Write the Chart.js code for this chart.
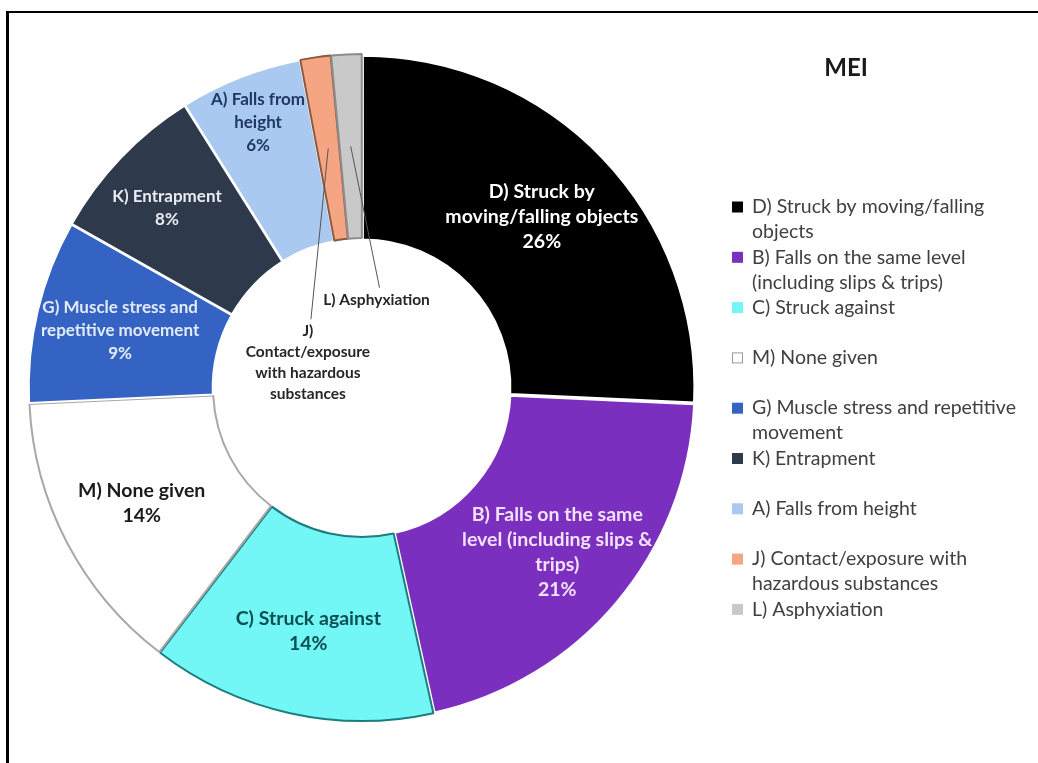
<!DOCTYPE html>
<html>
<head>
<meta charset="utf-8">
<script src="https://cdn.jsdelivr.net/npm/chart.js@4.4.1/dist/chart.umd.min.js"></script>
<style>
  html, body { margin: 0; padding: 0; background: #fff; }
  #wrap { position: relative; width: 1038px; height: 763px; overflow: hidden; }
  #frame { position: absolute; left: 6px; top: 11px; right: 0; bottom: 0; border-top: 2px solid #000; border-left: 3px solid #000; }
  canvas { position: absolute; left: 0; top: 0; }
</style>
</head>
<body>
<div id="wrap">
  <div id="frame"></div>
  <canvas id="meiChart" width="1038" height="763"></canvas>
</div>
<script>
// MEI breakdown by accident type (percent of cases)
const categories = [
  'D) Struck by moving/falling objects',
  'B) Falls on the same level (including slips & trips)',
  'C) Struck against',
  'M) None given',
  'G) Muscle stress and repetitive movement',
  'K) Entrapment',
  'A) Falls from height',
  'J) Contact/exposure with hazardous substances',
  'L) Asphyxiation'
];
const shares = [26, 21, 14, 14, 9, 8, 6, 1.5, 1.5];

// how each name is broken inside the ring and in the legend
const sliceLines = [
  ['D) Struck by', 'moving/falling objects'],
  ['B) Falls on the same', 'level (including slips &', 'trips)'],
  ['C) Struck against'],
  ['M) None given'],
  ['G) Muscle stress and', 'repetitive movement'],
  ['K) Entrapment'],
  ['A) Falls from', 'height'],
  ['J)', 'Contact/exposure', 'with hazardous', 'substances'],
  ['L) Asphyxiation']
];
const legendLines = [
  ['D) Struck by moving/falling', 'objects'],
  ['B) Falls on the same level', '(including slips & trips)'],
  ['C) Struck against'],
  ['M) None given'],
  ['G) Muscle stress and repetitive', 'movement'],
  ['K) Entrapment'],
  ['A) Falls from height'],
  ['J) Contact/exposure with', 'hazardous substances'],
  ['L) Asphyxiation']
];

const fillColors = ['#000000', '#7b2fbe', '#72f6f6', '#ffffff', '#3463c4', '#2e3a4c', '#a9c9f1', '#f5a582', '#c9c9c9'];
const edgeColors = ['#ffffff', '#ffffff', '#1f7d7e', '#a8a8a8', '#ffffff', '#ffffff', '#ffffff', '#8a5a40', '#8c8c8c'];
const textColors = ['#ffffff', '#f3e1fb', '#0d4f52', '#1a1a1a', '#e4ebf8', '#e8ebf0', '#1f3864', '#262626', '#262626'];

// label nudges: turn in degrees from the slice middle, r as share of the outer radius
const labelPlacement = {
  B: { r: 0.77 },
  G: { size: 17 },
  K: { turn: -1, r: 0.80, size: 17 },
  A: { r: 0.86, size: 17 },
  J: { turn: -57, r: 0.18, size: 15.5, leader: true },
  L: { turn: 12, r: 0.27, size: 15.5, leader: true }
};

const sliceLabels = {
  id: 'sliceLabels',
  afterDatasetsDraw(chart) {
    const ctx = chart.ctx;
    const meta = chart.getDatasetMeta(0);
    ctx.save();
    ctx.textAlign = 'center';
    ctx.textBaseline = 'middle';
    meta.data.forEach((arc, i) => {
      const p = arc.getProps(['x', 'y', 'startAngle', 'endAngle', 'innerRadius', 'outerRadius'], true);
      const tw = labelPlacement[categories[i][0]] || {};
      const mid = (p.startAngle + p.endAngle) / 2;
      const ang = mid + (tw.turn || 0) * Math.PI / 180;
      const r = (tw.r || 0.75) * p.outerRadius;
      const lx = p.x + Math.cos(ang) * r;
      const ly = p.y + Math.sin(ang) * r;
      const lines = tw.leader ? sliceLines[i] : sliceLines[i].concat(shares[i] + '%');
      const lh = tw.leader ? 21 : (tw.size ? 23 : 25);
      const top = ly - (lines.length - 1) * lh / 2;
      if (tw.leader) {
        const sr = 0.73 * p.outerRadius;
        ctx.strokeStyle = '#555';
        ctx.lineWidth = 1;
        ctx.beginPath();
        ctx.moveTo(p.x + Math.cos(mid) * sr, p.y + Math.sin(mid) * sr);
        ctx.lineTo(lx + 3, top - 12);
        ctx.stroke();
      }
      ctx.font = 'bold ' + (tw.size || 19.5) + 'px Lato';
      ctx.fillStyle = textColors[i];
      lines.forEach((t, k) => ctx.fillText(t, lx, top + k * lh));
    });
    ctx.restore();
  }
};

const sideLegend = {
  id: 'sideLegend',
  afterDraw(chart) {
    const ctx = chart.ctx;
    ctx.save();
    ctx.fillStyle = '#1a1a1a';
    ctx.font = 'bold 24px Lato';
    ctx.textAlign = 'center';
    ctx.textBaseline = 'middle';
    ctx.fillText('MEI', 846, 68);

    ctx.font = '19.5px Lato';
    ctx.textAlign = 'left';
    legendLines.forEach((lines, i) => {
      const y = 207 + i * 50.3;
      ctx.fillStyle = fillColors[i];
      ctx.fillRect(732, y - 5.5, 11, 11);
      if (fillColors[i] === '#ffffff') {
        ctx.strokeStyle = '#999';
        ctx.lineWidth = 1;
        ctx.strokeRect(732.5, y - 5, 10, 10);
      }
      ctx.fillStyle = '#404040';
      lines.forEach((t, k) => ctx.fillText(t, 752, y + k * 25));
    });
    ctx.restore();
  }
};

new Chart(document.getElementById('meiChart'), {
  type: 'doughnut',
  data: {
    labels: categories,
    datasets: [{
      data: shares,
      backgroundColor: fillColors,
      borderColor: edgeColors,
      borderWidth: 2,
      offset: 5
    }]
  },
  options: {
    responsive: false,
    animation: false,
    cutout: '44.5%',
    layout: { padding: { left: 27, right: 341, top: 52, bottom: 39 } },
    plugins: {
      legend: { display: false },
      tooltip: { enabled: false }
    }
  },
  plugins: [sliceLabels, sideLegend]
});
</script>
</body>
</html>
